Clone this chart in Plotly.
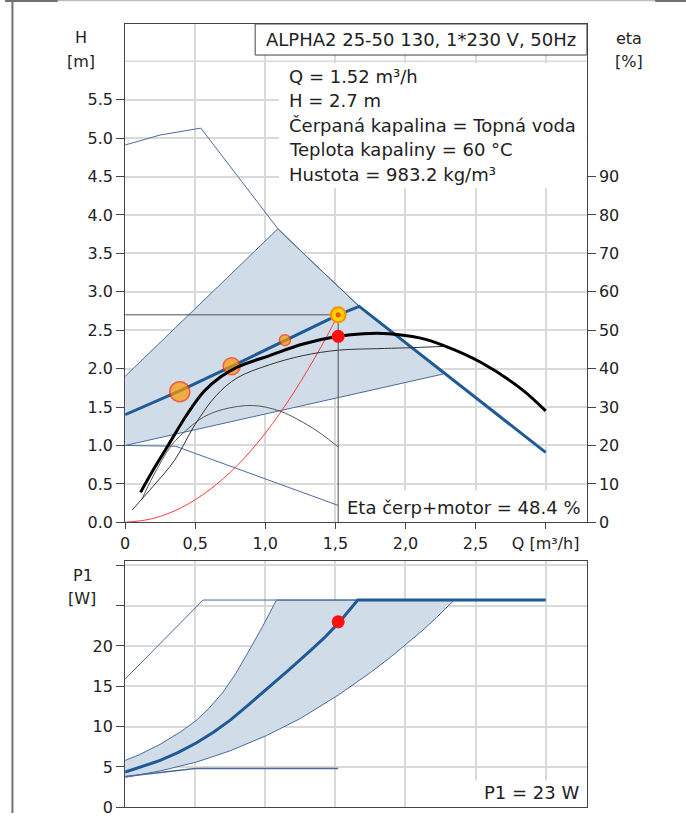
import plotly.graph_objects as go

FIG_W, FIG_H = 686, 823

# ---------------- data ----------------
# Top chart: Q [m3/h] versus H [m]
max_q = [0, 0.25, 0.54, 1.09, 1.3, 1.67, 2.0, 2.27, 2.5, 3.0]
max_h = [4.91, 5.04, 5.13, 3.82, 3.45, 2.81, 2.34, 1.95, 1.62, 0.91]

band_low_q = [0, 2.27]
band_low_h = [1.0, 1.93]
band_up_q = [0, 1.09]
band_up_h = [1.9, 3.82]

ctrl_q = [0, 0.39, 0.76, 1.14, 1.52, 1.67]
ctrl_h = [1.40, 1.71, 2.03, 2.37, 2.70, 2.81]

min_q = [0, 0.36, 1.52]
min_h = [1.0, 0.99, 0.22]

sys_q = [0, 0.2, 0.4, 0.6, 0.8, 1.0, 1.2, 1.4, 1.52]
sys_h = [0, 0.05, 0.19, 0.42, 0.74, 1.16, 1.68, 2.29, 2.70]

pts_q = [0.39, 0.76, 1.14]
pts_h = [1.70, 2.03, 2.37]
pts_size = [20, 17, 11]

duty_q = 1.52
duty_h = 2.70
duty_eta = 48.4

# efficiency curves, eta [%]
eta_q = [0.11, 0.2, 0.30, 0.44, 0.56, 0.68, 0.80, 1.03, 1.27, 1.52, 1.70, 1.88, 2.1, 2.26, 2.54, 2.83, 3.0]
eta_v = [7.8, 13.6, 19.6, 28.0, 34.0, 37.8, 40.4, 43.4, 46.4, 48.4, 49.1, 49.1, 48.0, 46.2, 41.6, 34.6, 29.0]

eta2_q = [0.05, 0.2, 0.35, 0.5, 0.65, 0.8, 1.03, 1.27, 1.52, 1.8, 2.0, 2.28]
eta2_v = [3.2, 9.4, 16.0, 25.5, 33.0, 37.6, 41.0, 43.4, 44.8, 45.2, 45.4, 45.8]

eta3_q = [0.12, 0.2, 0.33, 0.45, 0.56, 0.7, 0.91, 1.1, 1.27, 1.4, 1.52]
eta3_v = [6.0, 12.0, 20.0, 24.4, 27.4, 29.4, 30.4, 29.0, 26.0, 23.0, 19.6]

# Bottom chart: Q [m3/h] versus P1 [W]
pmax_q = [0, 0.556, 3.0]
pmax_p = [15.9, 25.7, 25.7]
pup_q = [0, 0.1, 0.25, 0.4, 0.51, 0.6, 0.7, 0.79, 0.88, 0.98, 1.08]
pup_p = [5.8, 6.5, 7.8, 9.4, 10.8, 12.3, 14.3, 16.6, 19.3, 22.4, 25.7]
pctl_q = [0, 0.1, 0.25, 0.38, 0.51, 0.63, 0.75, 0.88, 1.01, 1.16, 1.32, 1.42, 1.52, 1.59, 1.66, 3.0]
pctl_p = [4.35, 4.9, 5.8, 6.8, 8.0, 9.3, 10.8, 12.7, 14.6, 16.9, 19.4, 21.0, 22.8, 24.2, 25.7, 25.7]
plow_q = [0, 0.25, 0.51, 0.75, 1.01, 1.25, 1.52, 1.75, 1.9, 2.02, 2.12, 2.22, 2.3, 2.35]
plow_p = [3.7, 4.5, 5.6, 7.0, 8.9, 11.0, 13.9, 16.7, 18.7, 20.4, 21.9, 23.5, 24.9, 25.7]
pmin_q = [0, 0.5, 1.52]
pmin_p = [3.8, 4.8, 4.8]
duty_p = 23

q_ticks = [0, 0.5, 1.0, 1.5, 2.0, 2.5, 3.0]
q_labels = ["0", "0,5", "1,0", "1,5", "2,0", "2,5", "Q [m³/h]"]
h_ticks = [0, 0.5, 1.0, 1.5, 2.0, 2.5, 3.0, 3.5, 4.0, 4.5, 5.0, 5.5]
eta_ticks = [0, 10, 20, 30, 40, 50, 60, 70, 80, 90]
p_ticks = [0, 5, 10, 15, 20, 25, 30]
p_labels = ["0", "5", "10", "15", "20", "", ""]

info_lines = ["Q = 1.52 m³/h", "H = 2.7 m", "Čerpaná kapalina = Topná voda",
              "Teplota kapaliny = 60 °C", "Hustota = 983.2 kg/m³"]
title_txt = "ALPHA2 25-50 130, 1*230 V, 50Hz"
eta_txt = "Eta čerp+motor = 48.4 %"
p1_txt = "P1 = 23 W"

# ---------------- styling ----------------
FONT = "DejaVu Sans"
TXT = "#222222"
THIN = "#4a6a9c"
THICK = "#1f5a96"
FILL = "rgb(208,220,232)"
GRID = "#d9d9d9"
FRAME = "#444444"
EFF_H = 812.5   # vertical pixel scale observed in the rendered page

def px(x):
    return x / FIG_W

def py(y):
    return 1 - y / EFF_H

X_DOM = [px(121), px(586)]
X_RANGE = [0, 465 / 141.2]
H_RANGE = [0, 498 / 76.8]
ETA_RANGE = [0, H_RANGE[1] * 20]

fig = go.Figure()

def add(x, y, xa="x", ya="y", **kw):
    fig.add_trace(go.Scatter(x=x, y=y, xaxis=xa, yaxis=ya, mode="lines",
                             hoverinfo="skip", showlegend=False, **kw))

# shaded band top
i0, i1 = max_q.index(band_up_q[-1]), max_q.index(band_low_q[-1])
poly_q = band_low_q + max_q[i0:i1 + 1][::-1] + band_up_q[::-1]
poly_h = band_low_h + max_h[i0:i1 + 1][::-1] + band_up_h[::-1]
add(poly_q, poly_h, fill="toself", fillcolor=FILL, line=dict(color=THIN, width=1))

add(max_q, max_h, line=dict(color=THIN, width=1))
add(min_q, min_h, line=dict(color=THIN, width=1))

# duty point reference lines
add([0, duty_q, duty_q], [duty_h, duty_h, 0], line=dict(color="#505050", width=1))

# efficiency curves
add(eta3_q, eta3_v, ya="y2", line=dict(color="#555555", width=1, shape="spline"))
add(eta2_q, eta2_v, ya="y2", line=dict(color="#333333", width=1, shape="spline"))
add(eta_q, eta_v, ya="y2", line=dict(color="#000000", width=3, shape="spline"))

# system curve
add(sys_q, sys_h, line=dict(color="#ff3b3b", width=1, shape="spline"))

# control curve following the max curve
j = max_q.index(ctrl_q[-1])
add(ctrl_q + max_q[j + 1:], ctrl_h + max_h[j + 1:], line=dict(color=THICK, width=3))

# markers
fig.add_trace(go.Scatter(x=pts_q, y=pts_h, mode="markers", hoverinfo="skip", showlegend=False,
                         marker=dict(size=pts_size, color="#ff9900",
                                     line=dict(color="#ff2a00", width=1.5))))
fig.add_trace(go.Scatter(x=[duty_q], y=[duty_h], mode="markers", hoverinfo="skip", showlegend=False,
                         marker=dict(size=15, color="#ffd000",
                                     line=dict(color="#ff8c00", width=2))))
fig.add_trace(go.Scatter(x=[duty_q], y=[duty_h], mode="markers", hoverinfo="skip", showlegend=False,
                         marker=dict(size=4, color="#ff6a00", line=dict(color="#ff2000", width=1))))
fig.add_trace(go.Scatter(x=[duty_q], y=[duty_eta], yaxis="y2", mode="markers", hoverinfo="skip",
                         showlegend=False, marker=dict(size=13, color="#ff1010", line=dict(width=0))))

# ---------------- bottom chart ----------------
ppoly_q = pup_q + plow_q[::-1]
ppoly_p = pup_p + plow_p[::-1]
add(ppoly_q, ppoly_p, xa="x2", ya="y3", fill="toself", fillcolor=FILL,
    line=dict(color=THIN, width=1))
add(pmax_q, pmax_p, xa="x2", ya="y3", line=dict(color=THIN, width=1))
add(pmin_q, pmin_p, xa="x2", ya="y3", line=dict(color=THIN, width=1.5))
add(pctl_q, pctl_p, xa="x2", ya="y3", line=dict(color=THICK, width=3))
fig.add_trace(go.Scatter(x=[duty_q], y=[duty_p], xaxis="x2", yaxis="y3", mode="markers",
                         hoverinfo="skip", showlegend=False,
                         marker=dict(size=13, color="#ff1010", line=dict(width=0))))

# ---------------- layout ----------------
tickfont = dict(family=FONT, size=16, color=TXT)
common_x = dict(domain=X_DOM, range=X_RANGE, tickvals=q_ticks, showgrid=True, gridcolor=GRID,
                gridwidth=1.5, zeroline=False, showline=True, linecolor=FRAME, linewidth=1,
                mirror=True, tickfont=tickfont, tickcolor=FRAME)

fig.update_layout(
    width=FIG_W, height=FIG_H, margin=dict(l=0, r=0, t=0, b=0),
    paper_bgcolor="white", plot_bgcolor="white", showlegend=False,
    xaxis=dict(common_x, anchor="y", ticktext=q_labels, ticks="outside", ticklen=6),
    yaxis=dict(domain=[py(522), py(24)], range=H_RANGE, tickvals=h_ticks,
               ticktext=[f"{v:.1f}" for v in h_ticks], ticks="outside", ticklen=8,
               tickcolor=FRAME, showgrid=True, gridcolor=GRID, gridwidth=1.5, zeroline=False,
               showline=True, linecolor=FRAME, linewidth=1, mirror=True, tickfont=tickfont),
    yaxis2=dict(overlaying="y", side="right", anchor="x", range=ETA_RANGE, tickvals=eta_ticks,
                ticks="outside", ticklen=8, tickcolor=FRAME, showgrid=False, zeroline=False,
                showline=False, tickfont=tickfont),
    xaxis2=dict(common_x, anchor="y3", showticklabels=False, ticks=""),
    yaxis3=dict(domain=[py(806.7), py(561)], range=[0, 30.5], tickvals=p_ticks, ticktext=p_labels,
                ticks="outside", ticklen=8, tickcolor=FRAME, showgrid=True, gridcolor=GRID,
                gridwidth=1.5, zeroline=False, showline=True, linecolor=FRAME, linewidth=1,
                mirror=True, tickfont=tickfont),
)

shapes = []
# gridline at H = 6.0 (no tick label there)
shapes.append(dict(type="line", xref="x", yref="y", x0=X_RANGE[0], x1=X_RANGE[1], y0=6.0, y1=6.0,
                   line=dict(color=GRID, width=1.5), layer="between"))

def to_top(xp0, yp0, xp1, yp1):
    return dict(x0=(xp0 - 121) / 141.2, x1=(xp1 - 121) / 141.2,
                y0=(522 - yp1) / 76.8, y1=(522 - yp0) / 76.8)

shapes.append(dict(type="rect", xref="x", yref="y", **to_top(276, 63, 586, 188),
                   fillcolor="white", line=dict(width=0), layer="between"))
shapes.append(dict(type="rect", xref="x", yref="y", **to_top(339, 490, 586, 522),
                   fillcolor="white", line=dict(width=0), layer="between"))
shapes.append(dict(type="rect", xref="x", yref="y", **to_top(252, 24, 586, 55),
                   fillcolor="white", line=dict(color=FRAME, width=1), layer="above"))
shapes.append(dict(type="rect", xref="x2", yref="y3", x0=(470 - 121) / 141.2, x1=X_RANGE[1],
                   y0=0, y1=(806.7 - 780) / 8.057, fillcolor="white", line=dict(width=0),
                   layer="between"))
# outer frame of the picture
shapes.append(dict(type="line", xref="paper", yref="paper", x0=px(7.5), x1=px(7.5), y0=0, y1=1,
                   line=dict(color="#707070", width=2)))
shapes.append(dict(type="line", xref="paper", yref="paper", x0=0, x1=1, y0=py(0.5), y1=py(0.5),
                   line=dict(color="#bdbdbd", width=1.5)))
shapes.append(dict(type="line", xref="paper", yref="paper", x0=0, x1=px(53), y0=py(1), y1=py(1),
                   line=dict(color="#707070", width=2)))
shapes.append(dict(type="line", xref="paper", yref="paper", x0=px(655), x1=1, y0=py(1), y1=py(1),
                   line=dict(color="#707070", width=2)))
fig.update_layout(shapes=shapes)

ann = []
def text(t, x, y, size=18, xanchor="center"):
    ann.append(dict(text=t, x=px(x), y=py(y), xref="paper", yref="paper", showarrow=False,
                    xanchor=xanchor, yanchor="middle", font=dict(family=FONT, size=size, color=TXT)))

text(title_txt, 419, 39.5)
for k, line in enumerate(info_lines):
    text(line, 284, 76 + k * 24.6, xanchor="left")
text(eta_txt, 462, 507)
text(p1_txt, 530, 792)
text("H", 77, 37, size=16)
text("[m]", 77, 61, size=16)
text("eta", 629, 38, size=16)
text("[%]", 629, 61, size=16)
text("P1", 79, 575, size=16)
text("[W]", 78, 598, size=16)
fig.update_layout(annotations=ann)

fig.write_html("out.html")
